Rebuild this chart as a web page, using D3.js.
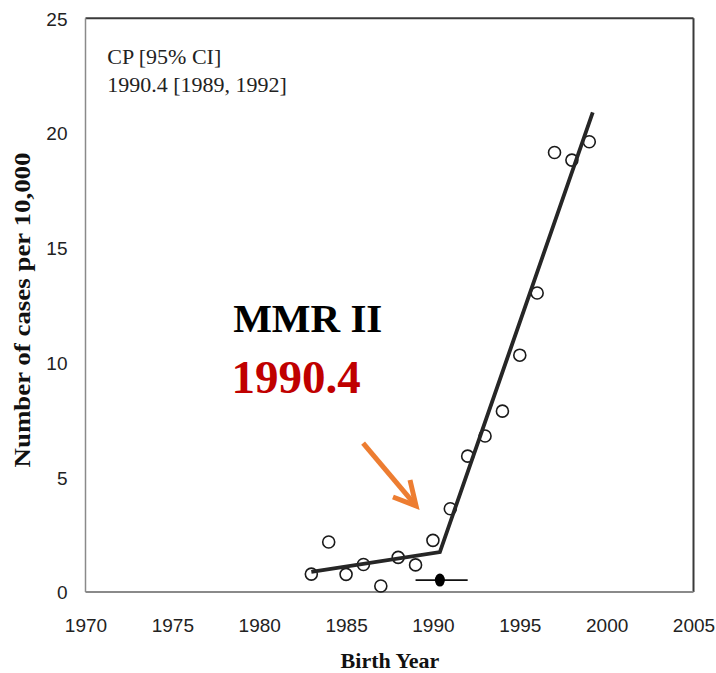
<!DOCTYPE html>
<html>
<head>
<meta charset="utf-8">
<script src="https://cdn.jsdelivr.net/npm/d3@7"></script>
<style>
  html, body { margin: 0; padding: 0; background: #fff; }
  svg { display: block; }
</style>
</head>
<body>
<svg id="chart" width="716" height="673"></svg>
<script>
// ---- Data ----
const years = [1983, 1984, 1985, 1986, 1987, 1988, 1989, 1990, 1991, 1992, 1993, 1994, 1995, 1996, 1997, 1998, 1999];
const rates = [0.78, 2.18, 0.77, 1.20, 0.26, 1.51, 1.18, 2.25, 3.63, 5.92, 6.80, 7.88, 10.32, 13.03, 19.15, 18.82, 19.62];
const fitYears = [1983, 1990.4, 1999.2];
const fitValues = [0.88, 1.74, 20.9];
const changePoint = 1990.4;
const ciBounds = [1989, 1992];
const ciLevel = 0.52;
const xTicks = [1970, 1975, 1980, 1985, 1990, 1995, 2000, 2005];
const yTicks = [0, 5, 10, 15, 20, 25];

(function () {
// ---- Layout ----
const svg = d3.select("#chart");
const pL = 85.5, pR = 693.5, pT = 18.3, pB = 592;
const x = d3.scaleLinear().domain([1970, 2005]).range([pL, pR]);
const y = d3.scaleLinear().domain([0, 25]).range([pB, pT]);

// plot border
svg.append("line").attr("x1", pL).attr("x2", pR).attr("y1", pT).attr("y2", pT)
  .attr("stroke", "#3a3a3a").attr("stroke-width", 2);
svg.append("line").attr("x1", pR).attr("x2", pR).attr("y1", pT).attr("y2", pB)
  .attr("stroke", "#3a3a3a").attr("stroke-width", 2);
svg.append("line").attr("x1", pL).attr("x2", pL).attr("y1", pT).attr("y2", pB)
  .attr("stroke", "#8a8a8a").attr("stroke-width", 1.5);
svg.append("line").attr("x1", pL).attr("x2", pR).attr("y1", pB).attr("y2", pB)
  .attr("stroke", "#8a8a8a").attr("stroke-width", 1.8);

// axes (labels only)
const xAxis = d3.axisBottom(x).tickValues(xTicks).tickFormat(d3.format("d")).tickSize(0).tickPadding(0);
const gx = svg.append("g").attr("transform", `translate(0,${pB})`).call(xAxis);
gx.select(".domain").remove();
gx.selectAll("text").attr("dy", null).attr("y", 40)
  .attr("font-family", "Liberation Sans, Arial, sans-serif").attr("font-size", 19).attr("fill", "#222");

const yAxis = d3.axisLeft(y).tickValues(yTicks).tickSize(0).tickPadding(0);
const gy = svg.append("g").attr("transform", `translate(${pL},0)`).call(yAxis);
gy.select(".domain").remove();
gy.selectAll("text").attr("x", -18).attr("dy", "0.36em")
  .attr("font-family", "Liberation Sans, Arial, sans-serif").attr("font-size", 19).attr("fill", "#222");

const serif = "Liberation Serif, Times New Roman, serif";
// axis titles
svg.append("text").attr("x", 390).attr("y", 668).attr("text-anchor", "middle")
  .attr("font-family", serif).attr("font-weight", "bold")
  .attr("font-size", 22).attr("fill", "#111").text("Birth Year");
svg.append("text").attr("transform", "translate(30,310) rotate(-90)").attr("text-anchor", "middle")
  .attr("font-family", serif).attr("font-weight", "bold")
  .attr("font-size", 23).attr("textLength", 315).attr("lengthAdjust", "spacingAndGlyphs")
  .attr("fill", "#111").text("Number of cases per 10,000");

// data points
svg.append("g").selectAll("circle").data(years).join("circle")
  .attr("cx", (d) => x(d)).attr("cy", (d, i) => y(rates[i])).attr("r", 6)
  .attr("fill", "none").attr("stroke", "#1a1a1a").attr("stroke-width", 1.6);

// fitted segmented line
const line = d3.line().x((d) => x(d[0])).y((d) => y(d[1]));
svg.append("path").datum(fitYears.map((d, i) => [d, fitValues[i]]))
  .attr("d", line).attr("fill", "none").attr("stroke", "#262626")
  .attr("stroke-width", 3.8).attr("stroke-linejoin", "miter");

// change point CI
svg.append("line").attr("x1", x(ciBounds[0])).attr("x2", x(ciBounds[1]))
  .attr("y1", y(ciLevel)).attr("y2", y(ciLevel)).attr("stroke", "#111").attr("stroke-width", 1.8);
svg.append("ellipse").attr("cx", x(changePoint)).attr("cy", y(ciLevel)).attr("rx", 5).attr("ry", 6.5)
  .attr("fill", "#000");

// CP text
svg.append("text").attr("x", x(1971.25)).attr("y", 64).attr("font-family", serif)
  .attr("font-size", 22).attr("fill", "#222").text("CP [95% CI]");
svg.append("text").attr("x", x(1971.25)).attr("y", 92).attr("font-family", serif)
  .attr("font-size", 22).attr("fill", "#222").text("1990.4 [1989, 1992]");

// annotations
svg.append("text").attr("x", x(1978.5)).attr("y", 332).attr("font-family", serif)
  .attr("font-weight", "bold").attr("font-size", 41).attr("fill", "#000").text("MMR II");
svg.append("text").attr("x", x(1978.4)).attr("y", 393).attr("font-family", serif)
  .attr("font-weight", "bold").attr("font-size", 47).attr("fill", "#C00000").text("1990.4");

// orange arrow
const arrowStart = [1985.98, 6.49], arrowTip = [1989.03, 3.75];
const wingA = [1988.68, 4.88], wingB = [1987.7, 4.14];
svg.append("line").attr("x1", x(arrowStart[0])).attr("y1", y(arrowStart[1]))
  .attr("x2", x(arrowTip[0])).attr("y2", y(arrowTip[1]))
  .attr("stroke", "#ED7D31").attr("stroke-width", 5);
svg.append("path").attr("d", d3.line()([[x(wingA[0]), y(wingA[1])], [x(arrowTip[0]), y(arrowTip[1])], [x(wingB[0]), y(wingB[1])]]))
  .attr("fill", "none").attr("stroke", "#ED7D31").attr("stroke-width", 5)
  .attr("stroke-linejoin", "miter").attr("stroke-linecap", "butt");
})();
</script>
</body>
</html>
